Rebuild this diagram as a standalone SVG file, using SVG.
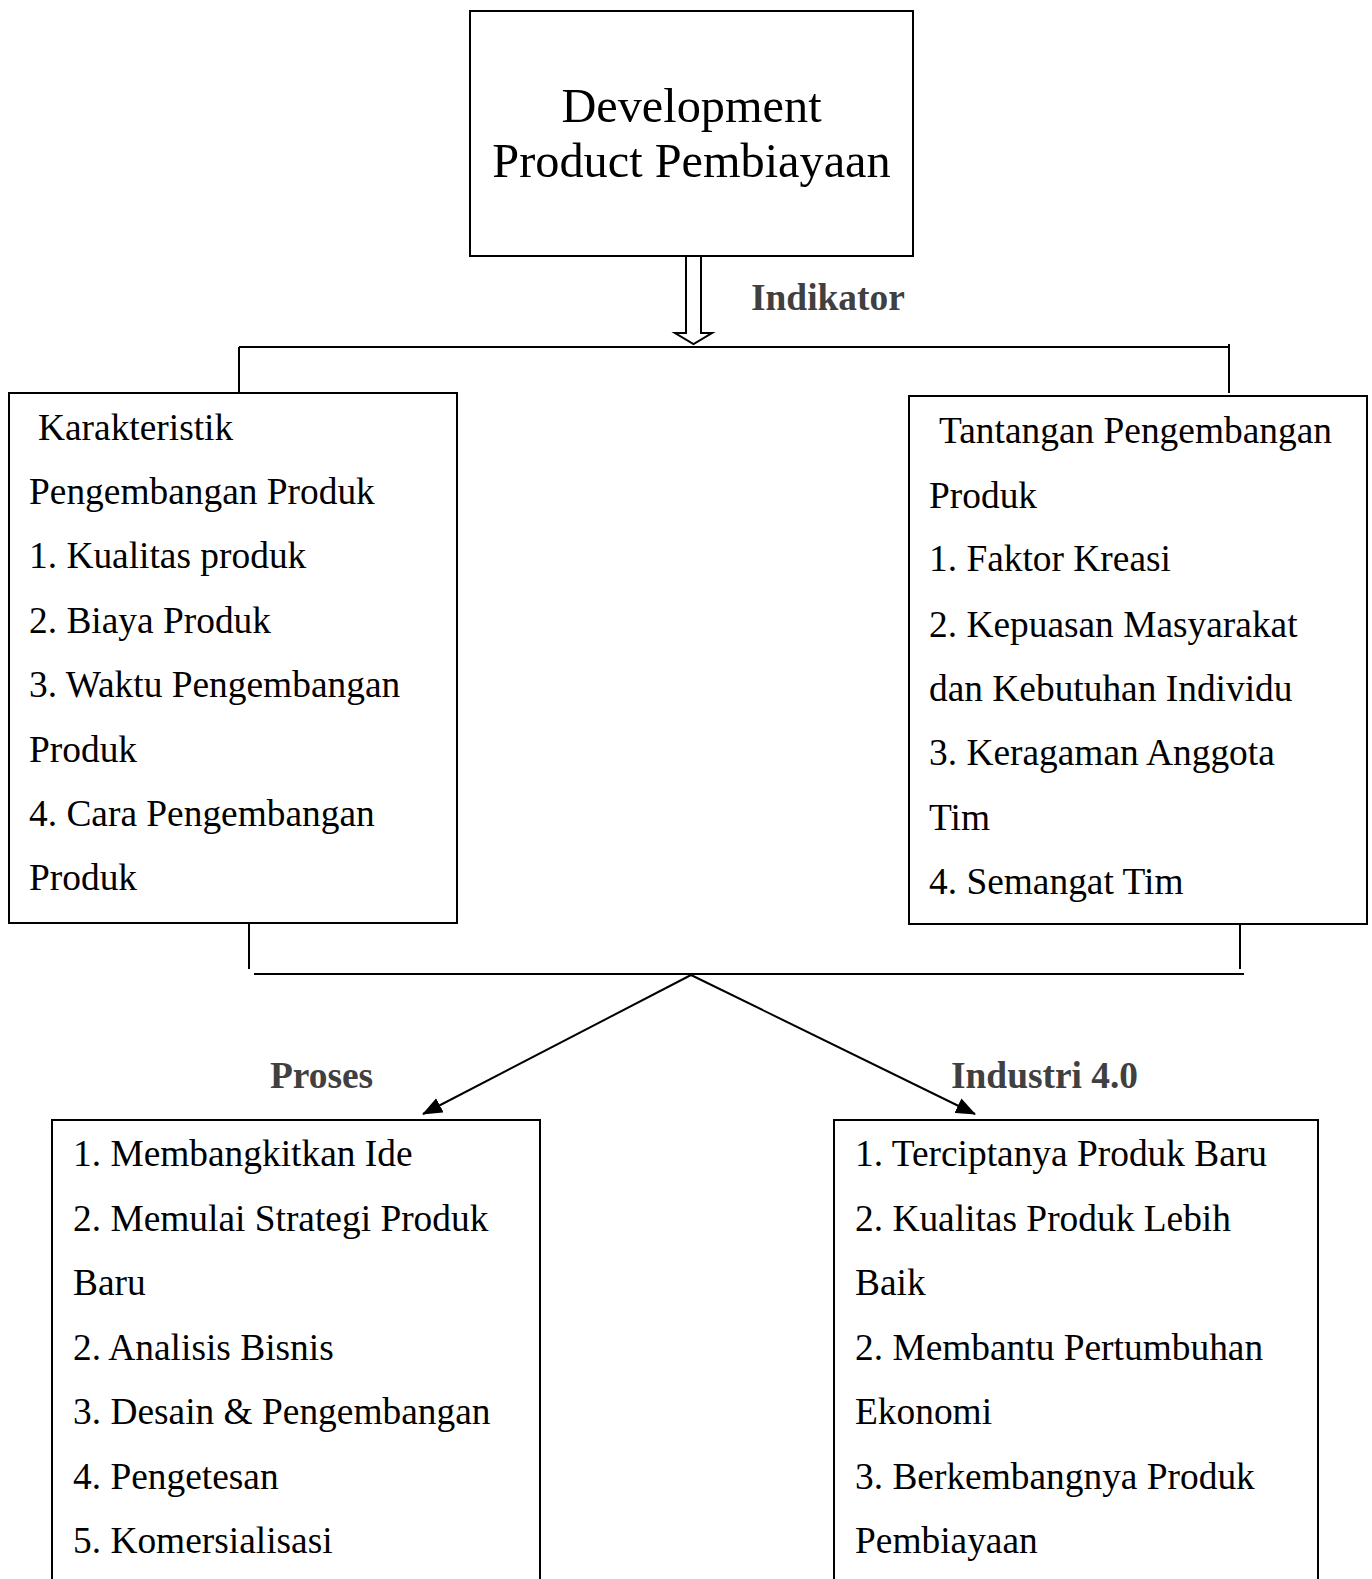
<svg xmlns="http://www.w3.org/2000/svg" width="1372" height="1579" viewBox="0 0 1372 1579">
<style>
.box{fill:#fff;stroke:#000;stroke-width:2}
.t{font-family:"Liberation Serif","Times New Roman",serif;font-size:37.4px;fill:#000}
.title{font-family:"Liberation Serif","Times New Roman",serif;font-size:48.3px;fill:#000;text-anchor:middle}
.lbl{font-family:"Liberation Serif","Times New Roman",serif;font-size:37.4px;font-weight:bold;fill:#404040}
.ln{stroke:#000;stroke-width:2;fill:none}
</style>
<defs>
<marker id="ah" markerUnits="userSpaceOnUse" markerWidth="20" markerHeight="16" refX="19" refY="8" orient="auto">
<path d="M0,0 L20,8 L0,16 Z" fill="#000"/>
</marker>
</defs>
<rect width="1372" height="1579" fill="#fff"/>
<g id="connectors">
<polygon class="ln" points="686,256 701,256 701,333 712,333 693.5,344 675,333 686,333"/>
<line class="ln" x1="239" y1="347" x2="1230" y2="347"/>
<line class="ln" x1="239" y1="347" x2="239" y2="394"/>
<line class="ln" x1="1229" y1="344" x2="1229" y2="393"/>
<line class="ln" x1="249" y1="920" x2="249" y2="969"/>
<line class="ln" x1="1240" y1="924" x2="1240" y2="969"/>
<line class="ln" x1="254" y1="974" x2="1244" y2="974"/>
<line class="ln" x1="691" y1="975" x2="423" y2="1114" marker-end="url(#ah)"/>
<line class="ln" x1="691" y1="975" x2="975" y2="1114" marker-end="url(#ah)"/>
<text class="lbl" x="751" y="310">Indikator</text>
<text class="lbl" x="270" y="1088">Proses</text>
<text class="lbl" x="951" y="1088">Industri 4.0</text>
</g>
<g id="top">
<rect class="box" x="470" y="11" width="443" height="245"/>
<text class="title" x="691.5" y="122">Development</text>
<text class="title" x="691.5" y="177">Product Pembiayaan</text>
</g>
<g id="left">
<rect class="box" x="9" y="393" width="448" height="530"/>
<text class="t" x="38" y="440">Karakteristik</text>
<text class="t" x="29" y="504">Pengembangan Produk</text>
<text class="t" x="29" y="568">1. Kualitas produk</text>
<text class="t" x="29" y="633">2. Biaya Produk</text>
<text class="t" x="29" y="697">3. Waktu Pengembangan</text>
<text class="t" x="29" y="762">Produk</text>
<text class="t" x="29" y="826">4. Cara Pengembangan</text>
<text class="t" x="29" y="890">Produk</text>
</g>
<g id="right">
<rect class="box" x="909" y="396" width="458" height="528"/>
<text class="t" x="939" y="443">Tantangan Pengembangan</text>
<text class="t" x="929" y="508">Produk</text>
<text class="t" x="929" y="571">1. Faktor Kreasi</text>
<text class="t" x="929" y="637">2. Kepuasan Masyarakat</text>
<text class="t" x="929" y="701">dan Kebutuhan Individu</text>
<text class="t" x="929" y="765">3. Keragaman Anggota</text>
<text class="t" x="929" y="830">Tim</text>
<text class="t" x="929" y="894">4. Semangat Tim</text>
</g>
<g id="proses">
<rect class="box" x="52" y="1120" width="488" height="470"/>
<text class="t" x="73" y="1166">1. Membangkitkan Ide</text>
<text class="t" x="73" y="1231">2. Memulai Strategi Produk</text>
<text class="t" x="73" y="1295">Baru</text>
<text class="t" x="73" y="1360">2. Analisis Bisnis</text>
<text class="t" x="73" y="1424">3. Desain &amp; Pengembangan</text>
<text class="t" x="73" y="1489">4. Pengetesan</text>
<text class="t" x="73" y="1553">5. Komersialisasi</text>
</g>
<g id="industri">
<rect class="box" x="834" y="1120" width="484" height="470"/>
<text class="t" x="855" y="1166">1. Terciptanya Produk Baru</text>
<text class="t" x="855" y="1231">2. Kualitas Produk Lebih</text>
<text class="t" x="855" y="1295">Baik</text>
<text class="t" x="855" y="1360">2. Membantu Pertumbuhan</text>
<text class="t" x="855" y="1424">Ekonomi</text>
<text class="t" x="855" y="1489">3. Berkembangnya Produk</text>
<text class="t" x="855" y="1553">Pembiayaan</text>
</g>
</svg>
